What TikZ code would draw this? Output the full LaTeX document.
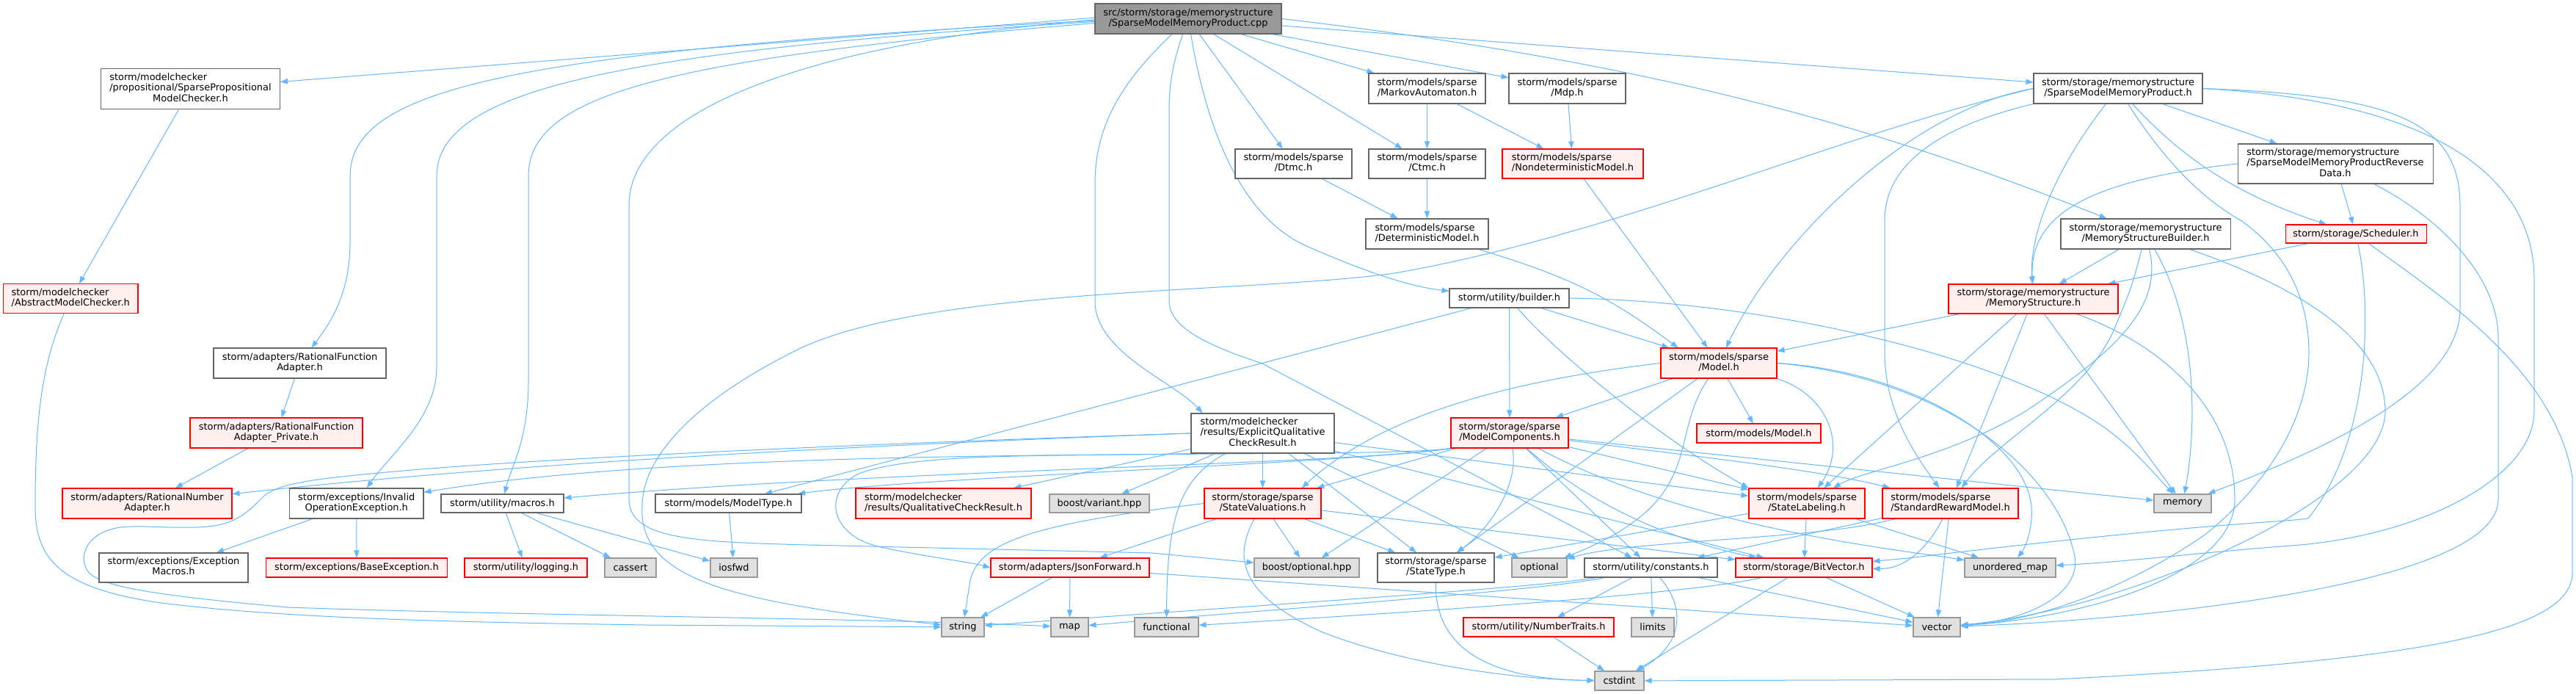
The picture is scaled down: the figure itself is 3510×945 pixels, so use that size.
\documentclass[tikz,border=0pt]{standalone}
\usepackage{fontspec}
\setmainfont{DejaVu Sans}
\usetikzlibrary{arrows.meta}
\definecolor{edgec}{HTML}{63B8FF}
\definecolor{nodeb}{HTML}{666666}
\definecolor{redb}{HTML}{FF0000}
\definecolor{redf}{HTML}{FFF0F0}
\definecolor{grayf}{HTML}{E0E0E0}
\definecolor{grayb}{HTML}{999999}
\definecolor{topf}{HTML}{999999}
\pgfdeclarelayer{back}
\pgfdeclarelayer{edges}
\pgfsetlayers{back,edges,main}
\newcommand{\TL}[2]{\begin{tabular}{@{}l@{}}#1\\\multicolumn{1}{@{}c@{}}{#2}\end{tabular}}
\tikzset{
  x=0.75pt, y=-0.75pt,
  box/.style={draw=nodeb, fill=white, line width=0.8pt, inner sep=0pt, font=\fontsize{9.7}{10.7}\selectfont},
  rbox/.style={box, draw=redb, fill=redf},
  gbox/.style={box, draw=grayb, fill=grayf},
  tbox/.style={box, draw=nodeb, fill=topf},
  edg/.style={draw=edgec, line width=0.75pt, line join=round, -{Triangle[length=7.5pt,width=5.5pt]}},
}
\newcommand{\B}[6]{\node[#1, minimum width=#4*0.75pt, minimum height=#5*0.75pt] (#2) at (#3) {#6};}
\begin{document}
\begin{tikzpicture}
\begin{pgfonlayer}{back}
\fill[white] (0,0) rectangle (3510,945);
\end{pgfonlayer}
\useasboundingbox (0,0) rectangle (3510,945);
% nodes
\B{tbox}{T}{1619,25.5}{254}{41}{\TL{src/storm/storage/memorystructure}{/SparseModelMemoryProduct.cpp}}
\B{box}{SPMC}{259.5,121}{244}{55}{\TL{storm/modelchecker\\/propositional/SparsePropositional}{ModelChecker.h}}
\B{rbox}{AMC}{96.25,406.7}{183.5}{40}{\TL{storm/modelchecker}{/AbstractModelChecker.h}}
\B{box}{RFA}{408.5,494.5}{235}{41}{\TL{storm/adapters/RationalFunction}{Adapter.h}}
\B{rbox}{RFAP}{376.5,589.5}{235}{41}{\TL{storm/adapters/RationalFunction}{Adapter\_Private.h}}
\B{rbox}{RNA}{200.5,685.5}{231}{41}{\TL{storm/adapters/RationalNumber}{Adapter.h}}
\B{box}{IOE}{485.75,685.5}{182.5}{41}{\TL{storm/exceptions/Invalid}{OperationException.h}}
\B{box}{MAC}{684.5,685.5}{167}{25}{storm/utility/macros.h}
\B{box}{EM}{236.5,773}{203}{40}{\TL{storm/exceptions/Exception}{Macros.h}}
\B{rbox}{BE}{486,773}{247}{26}{storm/exceptions/BaseException.h}
\B{rbox}{LOG}{716.5,773}{167}{26}{storm/utility/logging.h}
\B{gbox}{CAS}{859,773}{70}{26}{cassert}
\B{box}{MT}{992.5,685.5}{199}{25}{storm/models/ModelType.h}
\B{gbox}{IOS}{1000,773}{64}{26}{iosfwd}
\B{rbox}{QCR}{1285.5,685.5}{239}{41}{\TL{storm/modelchecker}{/results/QualitativeCheckResult.h}}
\B{gbox}{BV}{1498,685.5}{136}{25}{boost/variant.hpp}
\B{box}{EQCR}{1720.5,590}{195}{54}{\TL{storm/modelchecker\\/results/ExplicitQualitative}{CheckResult.h}}
\B{rbox}{SV}{1720.5,685.5}{159}{41}{\TL{storm/storage/sparse}{/StateValuations.h}}
\B{rbox}{JF}{1458,773}{216}{26}{storm/adapters/JsonForward.h}
\B{gbox}{BO}{1780.5,773}{143}{26}{boost/optional.hpp}
\B{gbox}{STR}{1312,854}{58}{26}{string}
\B{gbox}{MAP}{1457.5,854}{51}{26}{map}
\B{gbox}{FUN}{1589.5,854}{87}{26}{functional}
\B{box}{MA}{1944.5,120.5}{159}{41}{\TL{storm/models/sparse}{/MarkovAutomaton.h}}
\B{box}{MDP}{2135.5,120.5}{159}{41}{\TL{storm/models/sparse}{/Mdp.h}}
\B{box}{DTMC}{1762.5,223}{159}{40}{\TL{storm/models/sparse}{/Dtmc.h}}
\B{box}{CTMC}{1944.5,223}{159}{40}{\TL{storm/models/sparse}{/Ctmc.h}}
\B{rbox}{NDM}{2143,223}{192}{40}{\TL{storm/models/sparse}{/NondeterministicModel.h}}
\B{box}{DM}{1944.5,318.5}{167}{41}{\TL{storm/models/sparse}{/DeterministicModel.h}}
\B{box}{BLD}{2056.5,406}{163}{26}{storm/utility/builder.h}
\B{rbox}{MOD}{2342,494.5}{158}{41}{\TL{storm/models/sparse}{/Model.h}}
\B{rbox}{MC}{2057,589.5}{160}{41}{\TL{storm/storage/sparse}{/ModelComponents.h}}
\B{rbox}{MM}{2396.5,590}{169}{26}{storm/models/Model.h}
\B{rbox}{SL}{2462,685.5}{158}{41}{\TL{storm/models/sparse}{/StateLabeling.h}}
\B{rbox}{SRM}{2657.5,685.5}{185}{41}{\TL{storm/models/sparse}{/StandardRewardModel.h}}
\B{box}{ST}{1956.5,773}{159}{40}{\TL{storm/storage/sparse}{/StateType.h}}
\B{gbox}{OPT}{2097.5,773}{75}{26}{optional}
\B{box}{CON}{2249.5,773}{181}{26}{storm/utility/constants.h}
\B{rbox}{BIT}{2458,773}{186}{26}{storm/storage/BitVector.h}
\B{rbox}{NT}{2096.5,854}{205}{26}{storm/utility/NumberTraits.h}
\B{gbox}{LIM}{2252,854}{58}{26}{limits}
\B{gbox}{CST}{2206.5,927}{67}{26}{cstdint}
\B{gbox}{VEC}{2639,854}{64}{26}{vector}
\B{gbox}{MEM}{2974,685.5}{78}{25}{memory}
\B{gbox}{UM}{2739,773}{124}{26}{unordered\_map}
\B{box}{SMMP}{2886,120.5}{230}{41}{\TL{storm/storage/memorystructure}{/SparseModelMemoryProduct.h}}
\B{box}{REV}{3182,223}{266}{54}{\TL{storm/storage/memorystructure\\/SparseModelMemoryProductReverse}{Data.h}}
\B{box}{MSB}{2923.5,318.5}{231}{41}{\TL{storm/storage/memorystructure}{/MemoryStructureBuilder.h}}
\B{rbox}{SCH}{3210,318.5}{192}{25}{storm/storage/Scheduler.h}
\B{rbox}{MS}{2770.5,407}{231}{40}{\TL{storm/storage/memorystructure}{/MemoryStructure.h}}
% edges
\begin{pgfonlayer}{edges}
% top file
\draw[edg] (T) -- (SMMP);
\draw[edg] ([yshift=1pt]T.west) -- (SPMC);
\draw[edg] ([yshift=-2pt]T.west) .. controls (700,70) and (477,120) .. (477,240) -- (477,330) .. controls (477,400) and (450,440) .. (RFA);
\draw[edg] ([yshift=-3pt]T.west) .. controls (850,70) and (595,120) .. (595,240) -- (595,500) .. controls (595,570) and (530,620) .. (IOE);
\draw[edg] ([yshift=-4.5pt]T.west) .. controls (900,80) and (720,130) .. (720,240) -- (720,520) .. controls (720,600) and (695,640) .. (MAC);
\draw[edg] ([yshift=-1pt]T.west) .. controls (1100,60) and (857,150) .. (857,280) -- (857,680) .. controls (857,735) and (950,738) .. (1100,742) -- (1570,753) -- (BO);
\draw[edg] (T) .. controls (1530,110) and (1492,170) .. (1492,250) -- (1492,410) .. controls (1492,480) and (1600,520) .. ([xshift=12pt]EQCR.north west);
\draw[edg] (T) .. controls (1600,80) and (1593,110) .. (1593,150) -- (1593,410) .. controls (1593,450) and (1660,475) .. (1720,495) -- (CON);
\draw[edg] (T) .. controls (1640,150) and (1680,290) .. (1780,335) .. controls (1860,370) and (1920,390) .. (BLD);
\draw[edg] (T) -- (DTMC);
\draw[edg] (T) -- (CTMC);
\draw[edg] (T) -- (MA);
\draw[edg] (T) -- (MDP);
\draw[edg] (T.east) .. controls (2300,90) and (2600,190) .. (MSB);
% left part
\draw[edg] (SPMC) -- (AMC);
\draw[edg] (AMC) .. controls (55,500) and (48,580) .. (48,690) .. controls (48,760) and (80,800) .. (213,820) .. controls (400,845) and (700,848) .. (880,851) -- (STR);
\draw[edg] (RFA) -- (RFAP);
\draw[edg] (RFAP) -- (RNA);
\draw[edg] (IOE) -- (EM);
\draw[edg] (IOE) -- (BE);
\draw[edg] (MAC) -- (LOG);
\draw[edg] (MAC) -- (CAS);
\draw[edg] (MAC) -- (IOS);
\draw[edg] (MT) -- (IOS);
% explicit qualitative check result
\draw[edg] (EQCR.west) .. controls (1200,605) and (700,630) .. (RNA);
\draw[edg] (EQCR.west) .. controls (1300,600) and (800,620) .. (561,640) .. controls (450,650) and (385,655) .. (360,675) .. controls (335,700) and (320,716) .. (269,718) .. controls (220,719) and (200,716) .. (180,717) .. controls (130,717) and (110,745) .. (115,767) .. controls (120,790) and (140,805) .. (393,827) .. controls (700,838) and (1200,842) .. (MAP);
\draw[edg] (EQCR.south west) .. controls (1450,622) and (1250,615) .. (1170,645) .. controls (1120,670) and (1130,730) .. (1200,745) .. controls (1260,758) and (1320,765) .. (JF.west);
\draw[edg] (EQCR) -- (QCR);
\draw[edg] (EQCR) -- (BV);
\draw[edg] (EQCR) .. controls (1610,650) and (1590,700) .. (FUN);
\draw[edg] (EQCR) -- (SV);
\draw[edg] (EQCR) -- (SL);
\draw[edg] (EQCR) -- (BIT);
\draw[edg] (EQCR) -- (ST);
\draw[edg] (EQCR) -- (OPT);
% state valuations
\draw[edg] (SV.west) .. controls (1420,712) and (1335,735) .. (1322,790) -- (STR);
\draw[edg] (SV) -- (JF);
\draw[edg] (SV) -- (BO);
\draw[edg] (SV) -- (ST);
\draw[edg] (SV) .. controls (1680,760) and (1690,810) .. (1800,860) .. controls (1900,900) and (2050,925) .. (CST);
\draw[edg] (SV) -- (BIT);
% json forward
\draw[edg] (JF) -- (STR);
\draw[edg] (JF) -- (MAP);
\draw[edg] (JF) -- (VEC);
% constants
\draw[edg] (CON) .. controls (2100,800) and (1700,825) .. (STR);
\draw[edg] (CON) .. controls (2100,805) and (1700,832) .. (MAP);
\draw[edg] (CON) -- (NT);
\draw[edg] (CON) -- (LIM);
\draw[edg] (CON) .. controls (2300,830) and (2290,880) .. (CST);
\draw[edg] (CON) -- (VEC);
\draw[edg] (NT) -- (CST);
\draw[edg] (ST) .. controls (1955,890) and (2040,925) .. (CST);
% state labeling, reward model
\draw[edg] (SL) -- (ST);
\draw[edg] (SL) -- (BIT);
\draw[edg] (SL) -- (UM);
\draw[edg] (SRM) -- (CON);
\draw[edg] (SRM) .. controls (2480,735) and (2220,735) .. (OPT);
\draw[edg] (SRM) -- (VEC);
\draw[edg] (SRM) .. controls (2630,740) and (2600,775) .. (BIT);
% model components
\draw[edg] (MC.south west) .. controls (1850,630) and (1250,650) .. (MT);
\draw[edg] (MC.south west) .. controls (1850,632) and (1200,640) .. (MAC);
\draw[edg] (MC.south west) .. controls (1850,628) and (1000,600) .. (IOE);
\draw[edg] (MC) -- (SV);
\draw[edg] (MC) -- (BO);
\draw[edg] (MC) .. controls (2070,660) and (2030,720) .. (ST);
\draw[edg] (MC) -- (CON);
\draw[edg] (MC) .. controls (2180,700) and (2300,740) .. (BIT);
\draw[edg] (MC) .. controls (2300,720) and (2600,750) .. (UM);
\draw[edg] (MC) -- (MEM);
\draw[edg] (MC) .. controls (2300,620) and (2480,640) .. (SRM);
\draw[edg] (MC) -- (SL);
% sparse model
\draw[edg] (MOD.west) .. controls (2000,525) and (1860,585) .. ([xshift=-20pt]SV.north east);
\draw[edg] (MOD) -- (MC);
\draw[edg] (MOD) -- (ST);
\draw[edg] (MOD) .. controls (2270,600) and (2330,680) .. (OPT);
\draw[edg] (MOD) -- (MM);
\draw[edg] (MOD.south east) .. controls (2495,540) and (2515,610) .. (SL);
\draw[edg] (MOD.east) .. controls (2600,505) and (2760,600) .. (2768,690) .. controls (2770,720) and (2760,745) .. (UM);
\draw[edg] (MOD.east) .. controls (2650,515) and (2800,640) .. (2826,753) .. controls (2840,810) and (2760,845) .. (VEC);
% builder
\draw[edg] (BLD) -- (MT);
\draw[edg] (BLD) -- (MC);
\draw[edg] (BLD) .. controls (2110,470) and (2250,590) .. (SL.north west);
\draw[edg] (BLD) -- (MOD);
\draw[edg] (BLD.east) .. controls (2400,410) and (2700,480) .. (2844,567) .. controls (2900,600) and (2930,640) .. (MEM);
% model classes
\draw[edg] (DM) .. controls (2150,380) and (2200,410) .. ([xshift=18pt]MOD.north west);
\draw[edg] (NDM) -- (MOD);
\draw[edg] (DTMC) -- (DM);
\draw[edg] (CTMC) -- (DM);
\draw[edg] (MA) -- (CTMC);
\draw[edg] (MA) -- (NDM);
\draw[edg] (MDP) -- (NDM);
% sparse model memory product header
\draw[edg] (SMMP.west) .. controls (2600,150) and (2420,330) .. (MOD);
\draw[edg] (SMMP.west) .. controls (2500,185) and (2200,320) .. (1900,372) .. controls (1700,400) and (1250,390) .. (1079,480) .. controls (950,545) and (875,620) .. (875,690) .. controls (870,790) and (1000,820) .. (STR);
\draw[edg] (SMMP.south west) .. controls (2650,170) and (2568,220) .. (2568,300) -- (2568,480) .. controls (2568,560) and (2610,620) .. (SRM);
\draw[edg] (SMMP) .. controls (2800,230) and (2765,320) .. (MS);
\draw[edg] (SMMP) .. controls (2950,220) and (3000,270) .. (3053,300) .. controls (3110,340) and (3146,400) .. (3146,480) .. controls (3146,560) and (3100,650) .. (3006,727) .. controls (2900,800) and (2780,845) .. (VEC);
\draw[edg] (SMMP) .. controls (2960,200) and (3030,260) .. (SCH);
\draw[edg] (SMMP) -- (REV);
\draw[edg] (SMMP.east) .. controls (3250,130) and (3352,160) .. (3352,280) -- (3352,420) .. controls (3352,520) and (3200,600) .. (MEM);
\draw[edg] (SMMP.east) .. controls (3350,140) and (3453,260) .. (3453,380) -- (3453,560) .. controls (3453,650) and (3300,730) .. (3122,743) .. controls (3000,752) and (2900,765) .. (UM);
% memory structure builder
\draw[edg] (MSB) -- (MS);
\draw[edg] (MSB) .. controls (2905,390) .. (2880,450) .. controls (2840,540) and (2720,600) .. (SRM);
\draw[edg] (MSB) .. controls (2948,420) and (2880,480) .. (2760,560) .. controls (2650,625) and (2540,640) .. (SL);
\draw[edg] (MSB) .. controls (3000,450) and (2990,600) .. (MEM);
\draw[edg] (MSB) .. controls (3100,380) and (3250,450) .. (3250,560) .. controls (3250,680) and (2900,830) .. (VEC);
% memory structure
\draw[edg] (MS) -- (MOD);
\draw[edg] (MS) -- (SL);
\draw[edg] (MS) -- (SRM);
\draw[edg] (MS) -- (MEM);
\draw[edg] (MS) .. controls (2950,470) and (3045,560) .. (3045,680) .. controls (3045,780) and (2850,840) .. (VEC);
% reverse data
\draw[edg] (REV.west) .. controls (2850,245) and (2765,290) .. (MS);
\draw[edg] (REV) -- (SCH);
\draw[edg] (REV) .. controls (3330,300) and (3404,380) .. (3404,460) -- (3404,680) .. controls (3404,800) and (2900,845) .. (VEC);
% scheduler
\draw[edg] (SCH) -- (MS);
\draw[edg] (SCH) .. controls (3232,420) and (3230,600) .. (3145,706) .. controls (3100,712) and (3000,712) .. (2600,760) -- (BIT);
\draw[edg] (SCH) .. controls (3320,400) and (3480,500) .. (3505,650) -- (3505,780) .. controls (3505,860) and (3300,900) .. (2800,925) -- (CST);
% bit vector
\draw[edg] (BIT) .. controls (2300,810) and (1900,835) .. (FUN);
\draw[edg] (BIT) -- (CST);
\draw[edg] (BIT) -- (VEC);
\end{pgfonlayer}
\end{tikzpicture}
\end{document}
